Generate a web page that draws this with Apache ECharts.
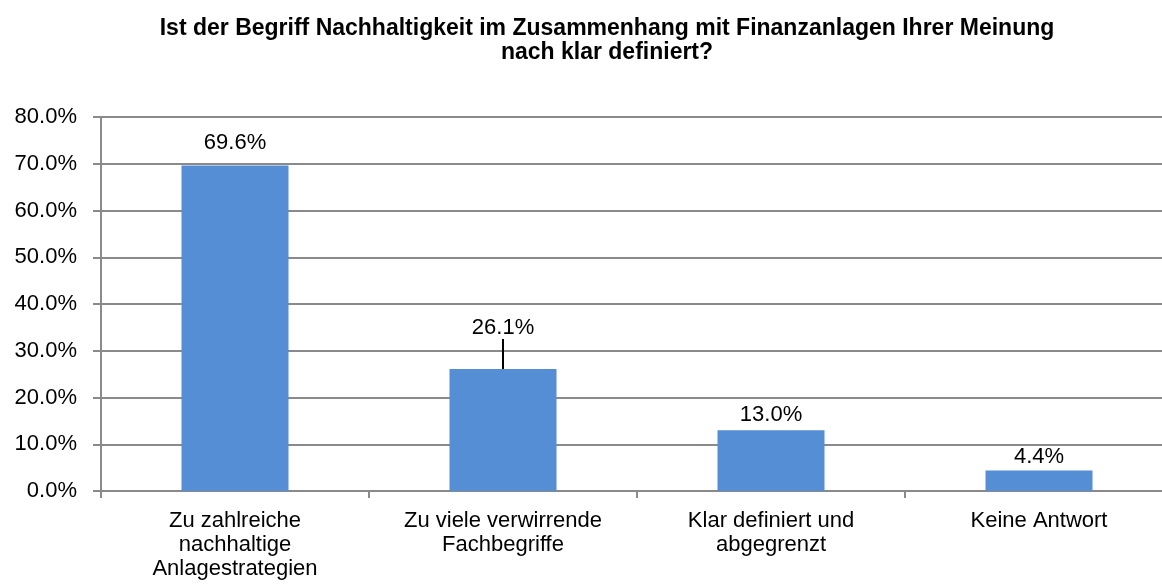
<!DOCTYPE html>
<html>
<head>
<meta charset="utf-8">
<script src="https://cdn.jsdelivr.net/npm/echarts@6/dist/echarts.min.js"></script>
<style>
  html, body { margin: 0; padding: 0; background: #fff; }
  #chart { width: 1162px; height: 588px; }
</style>
</head>
<body>
<div id="chart"></div>
<script>
const titleText = 'Ist der Begriff Nachhaltigkeit im Zusammenhang mit Finanzanlagen Ihrer Meinung\nnach klar definiert?';
const categories = [
  'Zu zahlreiche\nnachhaltige\nAnlagestrategien',
  'Zu viele verwirrende\nFachbegriffe',
  'Klar definiert und\nabgegrenzt',
  'Keine Antwort'
];
const values = [69.6, 26.1, 13.0, 4.4];
// gap between bar top and label, and the one label moved up with a leader line
const labelGap = [12, 4, 4, 2];
const labelMoved = [0, 26, 0, 0];

const chart = echarts.init(document.getElementById('chart'));
chart.setOption({
  animation: false,
  title: {
    text: titleText,
    left: 602,
    textAlign: 'center',
    top: 12,
    textStyle: {
      fontFamily: 'Liberation Sans, Arial',
      fontWeight: 'bold',
      fontSize: 23,
      lineHeight: 24,
      color: '#000'
    }
  },
  grid: { left: 101, width: 1072, top: 117, bottom: 97, outerBoundsMode: 'none', containLabel: false },
  xAxis: {
    type: 'category',
    data: categories,
    axisLine: { lineStyle: { color: '#8a8a8a', width: 2 } },
    axisTick: { show: true, length: 7, lineStyle: { color: '#8a8a8a', width: 2 } },
    axisLabel: {
      fontFamily: 'Liberation Sans, Arial',
      fontSize: 22,
      lineHeight: 24,
      color: '#000',
      margin: 18,
      interval: 0
    }
  },
  yAxis: {
    type: 'value',
    min: 0,
    max: 80,
    interval: 10,
    axisLine: { show: true, lineStyle: { color: '#8a8a8a', width: 2 } },
    axisTick: { show: true, length: 8, lineStyle: { color: '#8a8a8a', width: 2 } },
    splitLine: { lineStyle: { color: '#8a8a8a', width: 2 } },
    axisLabel: {
      fontFamily: 'Liberation Sans, Arial',
      fontSize: 22,
      color: '#000',
      margin: 24,
      formatter: v => v.toFixed(1) + '%'
    }
  },
  series: [{
    type: 'bar',
    data: values.map((v, i) => ({
      value: v,
      label: { distance: labelGap[i] },
      labelLine: { show: labelMoved[i] > 0 }
    })),
    barWidth: 107,
    itemStyle: { color: '#558ED5' },
    label: {
      show: true,
      position: 'top',
      fontFamily: 'Liberation Sans, Arial',
      fontSize: 22,
      color: '#000',
      formatter: p => p.value.toFixed(1) + '%'
    },
    labelLine: { lineStyle: { color: '#000', width: 2 } },
    labelLayout: p => ({ dy: -labelMoved[p.dataIndex] })
  }]
});
</script>
</body>
</html>
